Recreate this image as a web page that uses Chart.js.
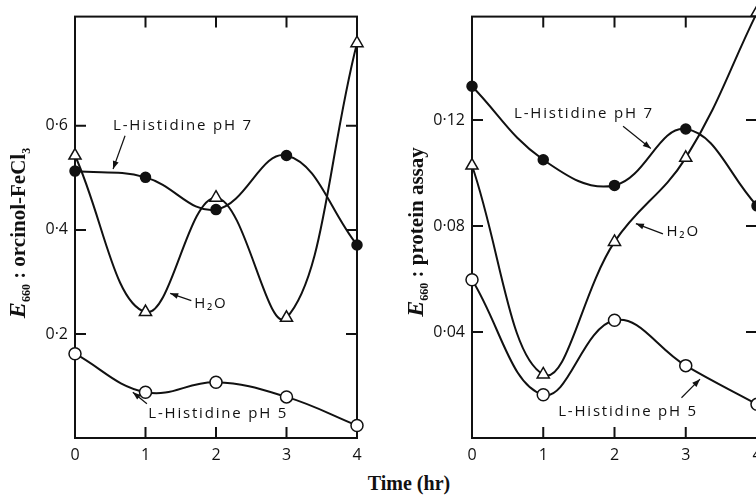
<!DOCTYPE html>
<html>
<head>
<meta charset="utf-8">
<script src="https://cdn.jsdelivr.net/npm/chart.js@4.4.1/dist/chart.umd.min.js"></script>
<style>
html, body { margin: 0; padding: 0; background: #fff; overflow: hidden; width: 756px; height: 501px; }
#wrap { position: relative; width: 756px; height: 501px; overflow: hidden; }
#orcinolChart { position: absolute; left: 0; top: 0; }
#proteinChart { position: absolute; left: 376px; top: 0; }
#xTitle { position: absolute; left: 0; width: 818px; top: 472px; line-height: 24px; text-align: center; font: bold 20px 'Liberation Serif', serif; color: #111; }
</style>
</head>
<body>
<div id="wrap">
  <canvas id="orcinolChart" width="372" height="470"></canvas>
  <canvas id="proteinChart" width="400" height="470"></canvas>
  <div id="xTitle">Time (hr)</div>
</div>
<script>
// time points (hr)
const timeHours = [0, 1, 2, 3, 4];

// left panel: E660 orcinol-FeCl3
const orcinolPh7 = [0.513, 0.501, 0.439, 0.543, 0.371];
const orcinolWater = [0.543, 0.242, 0.462, 0.231, 0.759];
const orcinolPh5 = [0.162, 0.088, 0.107, 0.079, 0.024];
const orcinolTicks = [0.2, 0.4, 0.6];

// right panel: E660 protein assay
const proteinPh7 = [0.1327, 0.105, 0.0953, 0.1166, 0.0876];
const proteinWater = [0.1028, 0.024, 0.074, 0.1057, 0.1605];
const proteinPh5 = [0.0597, 0.0163, 0.0444, 0.0273, 0.0127];
const proteinTicks = [0.04, 0.08, 0.12];

const ink = '#111';
const tickFont = { family: "'Open Sans', 'DejaVu Sans', sans-serif", size: 16 };
const noteFont = "15px 'Open Sans', 'DejaVu Sans', sans-serif";
const serif = "'Liberation Serif', 'DejaVu Serif', serif";

function pairs(values) {
    return values.map((v, i) => ({ x: timeHours[i], y: v }));
}

function series(values, style) {
    const base = {
        data: pairs(values),
        borderColor: ink,
        borderWidth: 2,
        tension: 0.4,
        pointBorderColor: ink,
        pointBorderWidth: 1.5,
        clip: false
    };
    if (style === 'dot') {
        return Object.assign(base, { pointStyle: 'circle', pointRadius: 5, pointBackgroundColor: ink });
    }
    if (style === 'tri') {
        return Object.assign(base, { pointStyle: 'triangle', pointRadius: 7, pointBackgroundColor: '#fff' });
    }
    return Object.assign(base, { pointStyle: 'circle', pointRadius: 6, pointBackgroundColor: '#fff' });
}

// y title with italic E and subscripts, drawn rotated
function drawYTitle(ctx, t) {
    const parts = [
        { s: 'E', f: 'italic bold 24px ' + serif, dy: 0 },
        { s: '660', f: 'bold 12px ' + serif, dy: 5 },
        { s: ' : ' + t.text, f: 'bold 21px ' + serif, dy: 0 }
    ];
    if (t.sub) parts.push({ s: t.sub, f: 'bold 12px ' + serif, dy: 5 });
    let total = 0;
    parts.forEach(p => { ctx.font = p.f; p.w = ctx.measureText(p.s).width; total += p.w; });
    ctx.save();
    ctx.translate(t.cx, t.cy);
    ctx.rotate(-Math.PI / 2);
    ctx.fillStyle = ink;
    ctx.textBaseline = 'alphabetic';
    let xx = -total / 2;
    parts.forEach(p => {
        ctx.font = p.f;
        ctx.fillText(p.s, xx, 5 + p.dy);
        xx += p.w;
    });
    ctx.restore();
}

// frame, inward ticks, y title and the arrowed notes
const frameTicks = {
    id: 'frameTicks',
    beforeDatasetsDraw(chart, args, opts) {
        const { ctx, chartArea: a, scales: { x, y } } = chart;
        const len = 11;
        ctx.save();
        ctx.strokeStyle = ink;
        ctx.lineWidth = 2;
        ctx.strokeRect(a.left, a.top, a.right - a.left, a.bottom - a.top);
        ctx.beginPath();
        [1, 2, 3].forEach(v => {
            const px = x.getPixelForValue(v);
            ctx.moveTo(px, a.bottom); ctx.lineTo(px, a.bottom - len);
            ctx.moveTo(px, a.top); ctx.lineTo(px, a.top + len);
        });
        opts.yTicks.forEach(v => {
            const py = y.getPixelForValue(v);
            ctx.moveTo(a.left, py); ctx.lineTo(a.left + len, py);
            ctx.moveTo(a.right, py); ctx.lineTo(a.right - len, py);
        });
        ctx.stroke();
        ctx.restore();
        drawYTitle(ctx, opts.yTitle);
    },
    afterDatasetsDraw(chart, args, opts) {
        const { ctx, scales: { x, y } } = chart;
        ctx.save();
        ctx.fillStyle = ink;
        ctx.strokeStyle = ink;
        ctx.lineWidth = 1.2;
        ctx.font = noteFont;
        ctx.letterSpacing = '1.8px';
        ctx.textBaseline = 'middle';
        opts.notes.forEach(n => {
            ctx.fillText(n.text, x.getPixelForValue(n.x), y.getPixelForValue(n.y));
            const x1 = x.getPixelForValue(n.arrow[0]), y1 = y.getPixelForValue(n.arrow[1]);
            const x2 = x.getPixelForValue(n.arrow[2]), y2 = y.getPixelForValue(n.arrow[3]);
            const ang = Math.atan2(y2 - y1, x2 - x1);
            ctx.beginPath();
            ctx.moveTo(x1, y1);
            ctx.lineTo(x2, y2);
            ctx.stroke();
            ctx.beginPath();
            ctx.moveTo(x2, y2);
            ctx.lineTo(x2 - 8 * Math.cos(ang) + 3 * Math.sin(ang), y2 - 8 * Math.sin(ang) - 3 * Math.cos(ang));
            ctx.lineTo(x2 - 8 * Math.cos(ang) - 3 * Math.sin(ang), y2 - 8 * Math.sin(ang) + 3 * Math.cos(ang));
            ctx.closePath();
            ctx.fill();
        });
        ctx.restore();
    }
};

function buildChart(id, opts) {
    const digits = opts.digits;
    return new Chart(document.getElementById(id), {
        type: 'line',
        data: {
            datasets: [
                series(opts.ph7, 'dot'),
                series(opts.water, 'tri'),
                series(opts.ph5, 'ring')
            ]
        },
        options: {
            responsive: false,
            animation: false,
            layout: { padding: opts.padding },
            plugins: {
                legend: { display: false },
                tooltip: { enabled: false },
                frameTicks: { yTicks: opts.yTicks, notes: opts.notes, yTitle: opts.yTitle }
            },
            scales: {
                x: {
                    type: 'linear',
                    min: 0,
                    max: 4,
                    grid: { display: false, drawTicks: false },
                    border: { display: false },
                    ticks: { stepSize: 1, padding: 8, color: ink, font: tickFont },
                    afterFit: s => { s.height = 32; }
                },
                y: {
                    min: 0,
                    max: opts.yMax,
                    grid: { display: false, drawTicks: false },
                    border: { display: false },
                    ticks: {
                        stepSize: opts.step,
                        includeBounds: false,
                        padding: 7,
                        color: ink,
                        font: tickFont,
                        callback: v => opts.yTicks.some(t => Math.abs(t - v) < 1e-6) ? v.toFixed(digits).replace('.', '·') : ''
                    },
                    afterFit: s => { s.width = opts.yWidth; }
                }
            }
        },
        plugins: [frameTicks]
    });
}

buildChart('orcinolChart', {
    ph7: orcinolPh7, water: orcinolWater, ph5: orcinolPh5,
    yTicks: orcinolTicks, yMax: 0.81, step: 0.2, digits: 1,
    yTitle: { text: 'orcinol-FeCl', sub: '3', cx: 20, cy: 233 },
    padding: { top: 13, right: 15, left: 0, bottom: 0 },
    yWidth: 75,
    notes: [
        { text: 'L-Histidine pH 7', x: 0.54, y: 0.6, arrow: [0.71, 0.581, 0.54, 0.517] },
        { text: 'H₂O', x: 1.69, y: 0.259, arrow: [1.65, 0.264, 1.35, 0.278] },
        { text: 'L-Histidine pH 5', x: 1.04, y: 0.046, arrow: [1.02, 0.066, 0.82, 0.088] }
    ]
});

buildChart('proteinChart', {
    ph7: proteinPh7, water: proteinWater, ph5: proteinPh5,
    yTicks: proteinTicks, yMax: 0.159, step: 0.04, digits: 2,
    yTitle: { text: 'protein assay', sub: '', cx: 42, cy: 232 },
    padding: { top: 12, right: 19, left: 0, bottom: 0 },
    yWidth: 96,
    notes: [
        { text: 'L-Histidine pH 7', x: 0.59, y: 0.1225, arrow: [2.12, 0.1176, 2.51, 0.1092] },
        { text: 'H₂O', x: 2.73, y: 0.0779, arrow: [2.68, 0.077, 2.30, 0.0809] },
        { text: 'L-Histidine pH 5', x: 1.21, y: 0.0098, arrow: [2.94, 0.0152, 3.2, 0.0222] }
    ]
});
</script>
</body>
</html>
